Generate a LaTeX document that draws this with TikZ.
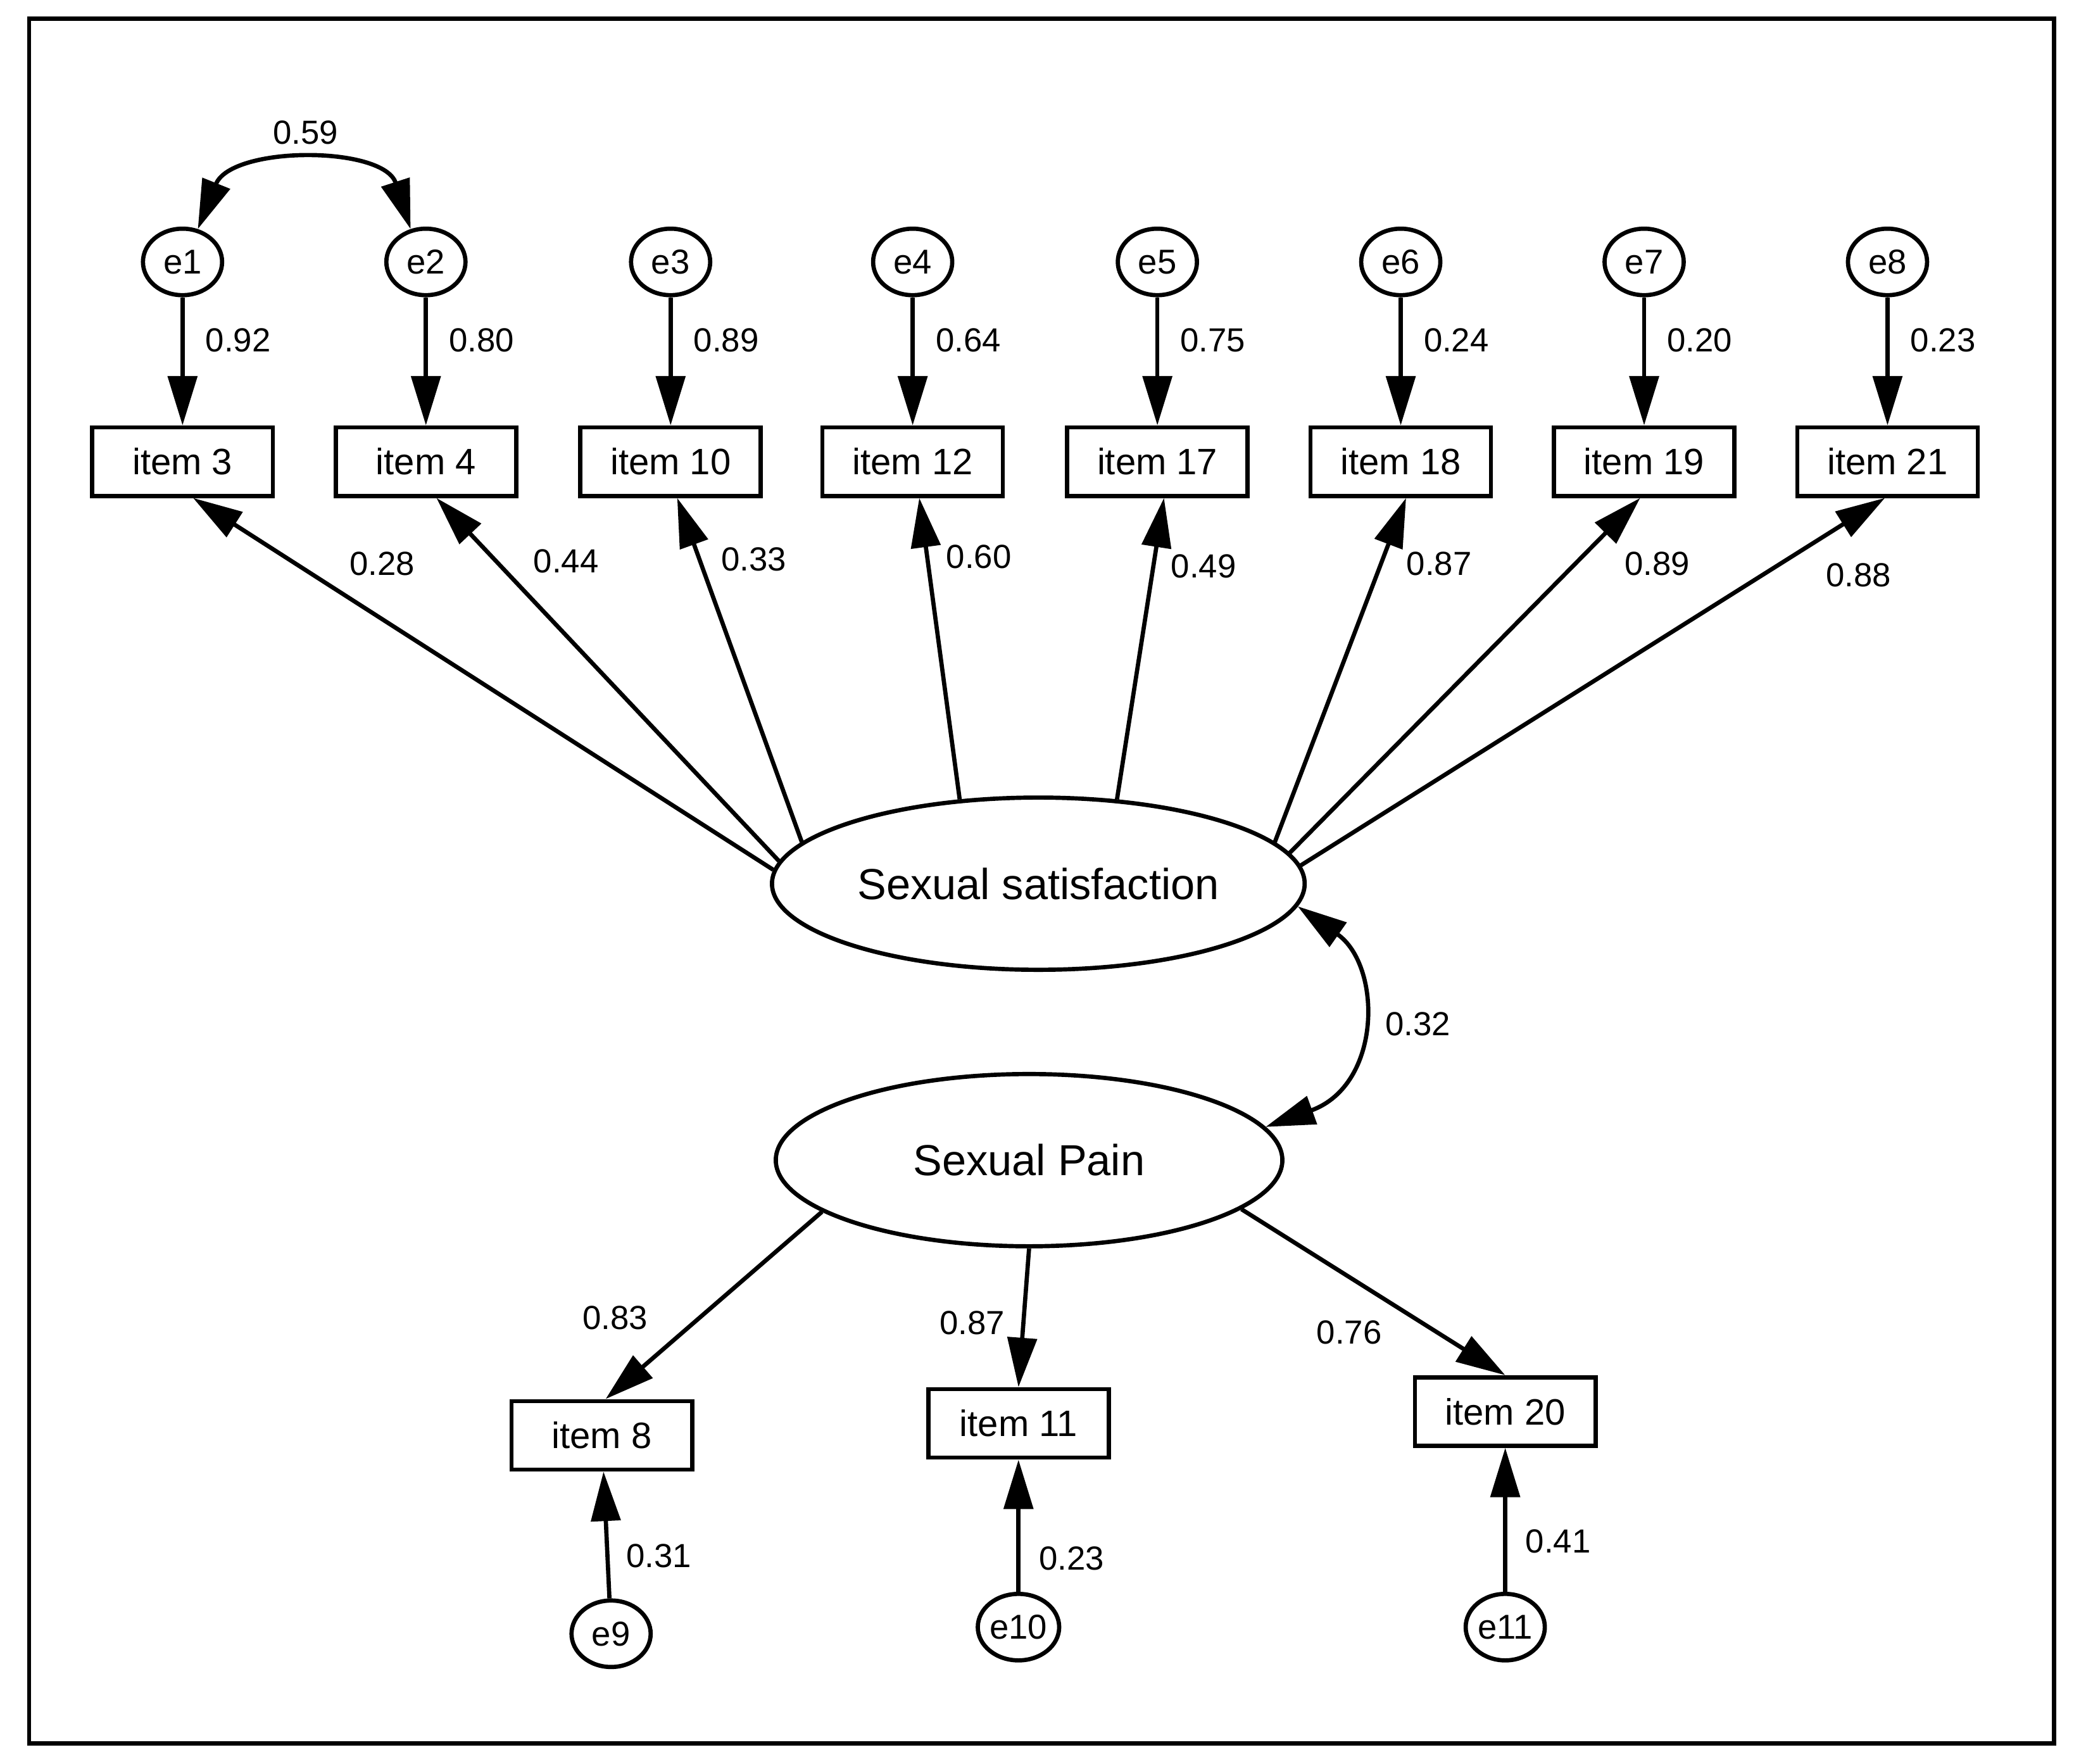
\documentclass[tikz,border=0pt]{standalone}
\usepackage{fontspec}
\setmainfont{Liberation Sans}
\usetikzlibrary{arrows.meta,shapes.geometric}
\begin{document}
\begin{tikzpicture}[x=0.02089cm,y=-0.02089cm,
  ln/.style={line width=1.9pt},
  arr/.style={ln,-{Triangle[length=0.78cm,width=0.46cm]}},
  darr/.style={ln,{Triangle[length=0.78cm,width=0.46cm]}-{Triangle[length=0.78cm,width=0.46cm]}},
  err/.style={ellipse,draw,ln,inner sep=0pt,minimum width=1.25cm,minimum height=1.05cm,font=\fontsize{15.5}{15.5}\selectfont},
  item/.style={rectangle,draw,ln,minimum width=2.85cm,minimum height=1.08cm,inner sep=0pt,font=\fontsize{16.5}{16.5}\selectfont},
  lat/.style={ellipse,draw,ln,minimum width=8.0cm,minimum height=2.72cm,font=\fontsize{19.5}{19.5}\selectfont},
  lab/.style={font=\fontsize{15}{15}\selectfont}]
\useasboundingbox (0,0) rectangle (1568,1333);
\draw[ln] (22,14) rectangle (1553,1318);
\foreach \i/\x/\t/\w in {1/138/3/0.92,2/322/4/0.80,3/507/10/0.89,4/690/12/0.64,5/875/17/0.75,6/1059/18/0.24,7/1243/19/0.20,8/1427/21/0.23}{
  \node[err] (e\i) at (\x,198) {e\i};
  \node[item] (i\i) at (\x,349) {item \t};
  \draw[arr] (e\i) -- (i\i);
  \node[lab] (w\i) at (\x+42,257) {\w};
}
\node[lat] (ss) at (785,668) {Sexual satisfaction};
\node[lat] (sp) at (778,877) {Sexual Pain};
\foreach \i/\a/\dx/\l/\lx/\ly in {1/177/8/0.28/289/426,2/175/8/0.44/428/424,3/170/5/0.33/570/423,4/133/5/0.60/740/421,5/47/5/0.49/910/428,6/10/4/0.87/1088/426,7/7/-3/0.89/1253/426,8/4/-2/0.88/1405/435}{
  \coordinate (t\i) at ([xshift=\dx*0.02089cm]i\i.south);
  \draw[arr] (ss.\a) -- (t\i);
  \node[lab] (l\i) at (\lx,\ly) {\l};
}
\draw[darr] (e1.65) .. controls (175,110) and (290,110) .. (e2.115);
\node[lab] (c1) at (231,100) {0.59};
\draw[darr] (ss.-5) .. controls (1045,730) and (1045,820) .. (sp.8);
\node[lab] (c2) at (1072,774) {0.32};
\node[item] (i9) at (455,1085) {item 8};
\node[item] (i10) at (770,1076) {item 11};
\node[item] (i11) at (1138,1067) {item 20};
\node[err] (e9) at (462,1235) {e9};
\node[err] (e10) at (770,1230) {e10};
\node[err] (e11) at (1138,1230) {e11};
\draw[arr] (sp.-166) -- ([xshift=0.06cm]i9.north);
\draw[arr] (sp.-90) -- (i10.north);
\draw[arr] (sp.-13) -- (i11.north);
\node[lab] (p1) at (465,996) {0.83};
\node[lab] (p2) at (735,1000) {0.87};
\node[lab] (p3) at (1020,1007) {0.76};
\draw[arr] (e9) -- (i9);
\draw[arr] (e10) -- (i10);
\draw[arr] (e11) -- (i11);
\node[lab] (q1) at (498,1176) {0.31};
\node[lab] (q2) at (810,1178) {0.23};
\node[lab] (q3) at (1178,1165) {0.41};
\end{tikzpicture}
\end{document}
